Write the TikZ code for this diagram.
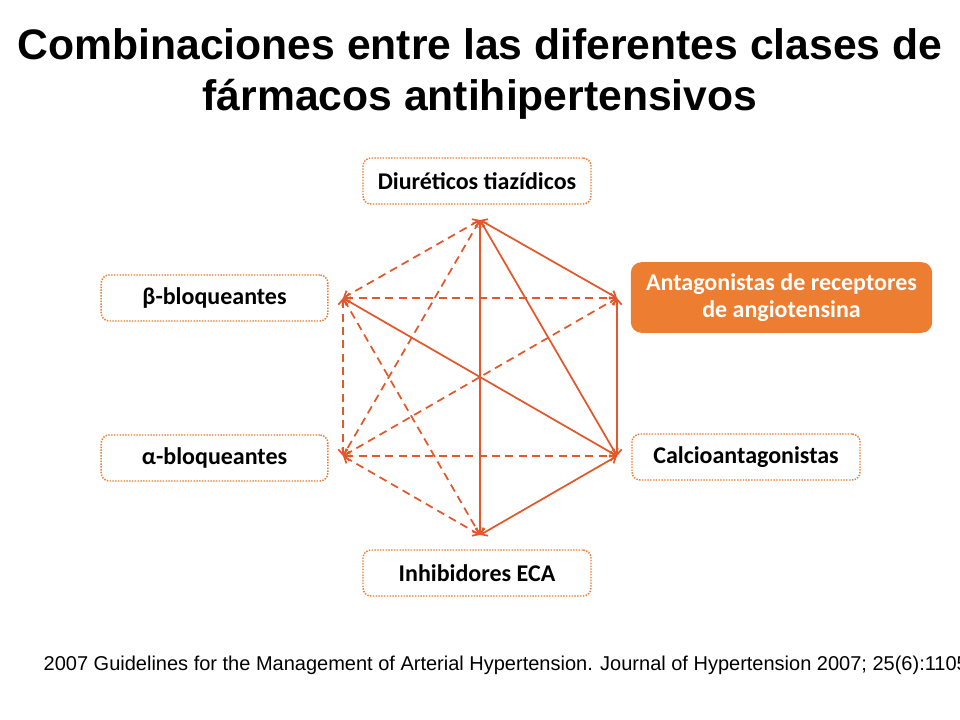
\documentclass[tikz,border=0pt]{standalone}
\usepackage{fontspec}
\setmainfont{Liberation Sans}
\newfontfamily\boxfont{Carlito}
\usetikzlibrary{arrows.meta}
\definecolor{orange}{HTML}{ED7D31}
\definecolor{linecol}{HTML}{E2582A}

\tikzset{
  drugbox/.style={draw=orange, densely dotted, line width=1.1pt, rounded corners=6pt,
    minimum height=34.5pt, font=\boxfont\bfseries\fontsize{18}{20}\selectfont, align=center},
  arbbox/.style={fill=orange, rounded corners=8pt, text=white,
    font=\boxfont\bfseries\fontsize{18}{20}\selectfont, align=center},
  combo/.style={draw=linecol, line width=1.3pt, {Straight Barb[length=4pt,width=7pt]}-{Straight Barb[length=4pt,width=7pt]}},
  weak/.style={combo, dashed, dash pattern=on 6pt off 4pt}
}

\begin{document}
\begin{tikzpicture}[x=0.75pt, y=-0.75pt]
\useasboundingbox (0,0) rectangle (960,720);

\node[font=\bfseries\fontsize{32}{38}\selectfont, align=center] (title) at (480,74)
  {Combinaciones entre las diferentes clases de\\f\'armacos antihipertensivos};

\node[drugbox, minimum width=171pt] (diur) at (477,181) {Diuréticos tiazídicos};
\node[drugbox, minimum width=170pt] (beta) at (214.5,298) {β-bloqueantes};
\node[drugbox, minimum width=170pt] (alfa) at (214.5,458) {α-bloqueantes};
\node[drugbox, minimum width=171pt] (calc) at (746,457) {Calcioantagonistas};
\node[drugbox, minimum width=171pt] (ieca) at (477,573) {Inhibidores ECA};
\node[arbbox, minimum width=226pt, minimum height=53pt] (arb) at (781.5,297.5)
  {Antagonistas de receptores\\de angiotensina};

\coordinate (T) at (480,220);
\coordinate (R) at (617,298);
\coordinate (C) at (617,456);
\coordinate (E) at (480,535);
\coordinate (A) at (343,456);
\coordinate (B) at (343,298);

\draw[combo] (T) -- (R);
\draw[combo] (T) -- (C);
\draw[combo] (T) -- (E);
\draw[combo] (R) -- (C);
\draw[combo] (C) -- (E);
\draw[combo] (B) -- (C);

\draw[weak] (T) -- (B);
\draw[weak] (T) -- (A);
\draw[weak] (B) -- (R);
\draw[weak] (A) -- (R);
\draw[weak] (B) -- (A);
\draw[weak] (A) -- (C);
\draw[weak] (A) -- (E);
\draw[weak] (B) -- (E);

\node[anchor=west, font=\fontsize{15}{17}\selectfont] (ref) at (39,665)
  {2007 Guidelines for the Management of Arterial Hypertension. Journal of Hypertension 2007; 25(6):1105};
\end{tikzpicture}
\end{document}
